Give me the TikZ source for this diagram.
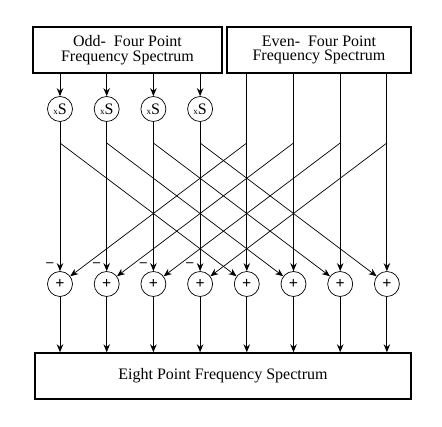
\documentclass[tikz,border=0pt]{standalone}
\usepackage{fontspec}
\setmainfont{Liberation Serif}
\usetikzlibrary{arrows.meta}
\begin{document}
\begin{tikzpicture}[x=1pt,y=-1pt,
  box/.style={draw,line width=1.4pt,minimum height=46pt,inner sep=0pt,align=center,font=\fontsize{16}{14.5}\selectfont},
  op/.style={draw,circle,minimum size=25pt,inner sep=0pt,line width=0.7pt,font=\fontsize{16}{16}\selectfont},
  sig/.style={-{Stealth[length=8pt,width=6.5pt]},line width=1pt},
  cross/.style={-{Stealth[length=8pt,width=6.5pt]},line width=0.7pt}]
\useasboundingbox (0,0) rectangle (442,427);

\node[box,minimum width=189pt] (odd)   at (127.5,50) {Odd-\ \ Four Point\\Frequency Spectrum};
\node[box,minimum width=184pt] (even)  at (319,50)   {Even-\ \ Four Point\\Frequency Spectrum};
\node[box,minimum width=376pt] (eight) at (223,376)  {Eight Point Frequency Spectrum};

\foreach \i in {1,...,4}
    \node[op] (xs\i) at ({60+(\i-1)*46.7},109) {{\fontsize{9}{9}\selectfont x}S};
\foreach \i in {1,...,8}
    \node[op] (p\i) at ({60+(\i-1)*46.7},284) {\textbf{+}};
\foreach \i in {1,...,8}
    \coordinate (b\i) at ({60+(\i-1)*46.7},143);

\foreach \i in {1,...,4} {
    \draw[sig] (odd.south -| xs\i) -- (xs\i);
    \draw[sig] (xs\i) -- (p\i);
}
\foreach \i in {5,...,8}
    \draw[sig] (even.south -| p\i) -- (p\i);

\foreach \i/\j in {1/5,2/6,3/7,4/8} {
    \draw[cross] (b\i) -- (p\j);
    \draw[cross] (b\j) -- (p\i);
    \node[font=\fontsize{14}{14}\selectfont] (m\i) at ([xshift=-1pt,yshift=10pt]p\i.north west) {\textbf{--}};
}

\foreach \i in {1,...,8}
    \draw[sig] (p\i) -- (p\i |- eight.north);
\end{tikzpicture}
\end{document}
